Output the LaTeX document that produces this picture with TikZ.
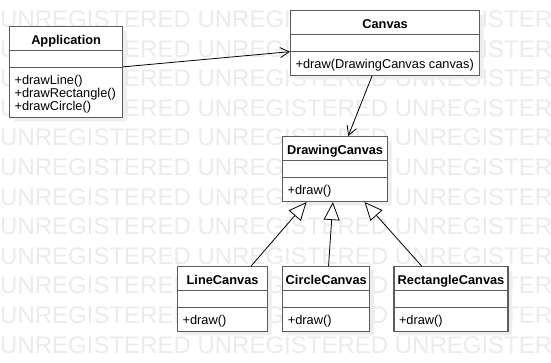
\documentclass[tikz,border=0pt]{standalone}
\usepackage{fontspec}
\setmainfont{Liberation Sans}
\usetikzlibrary{shapes.multipart}
\usetikzlibrary{shadows}
\usetikzlibrary{arrows.meta}
\usetikzlibrary{positioning}

\definecolor{classline}{HTML}{5C5C5C}
\definecolor{stampgray}{HTML}{EBEBEB}
\definecolor{shadegray}{HTML}{EEEEEE}

% one line of a compartment, fixed height so all boxes line up
\newcommand{\member}[1]{\rule[-1pt]{0pt}{13pt}\smash{#1}}
\newcommand{\members}[1]{\begin{tabular}{@{}l@{}}#1\end{tabular}}
% class name, centred, does not widen the box
\newcommand{\cname}[1]{\member{\makebox[0pt]{\textbf{#1}}}}
\renewcommand{\arraystretch}{0}

\tikzset{
  umlclass/.style={rectangle split, rectangle split parts=3,
    rectangle split part align={center,left,left},
    rectangle split empty part height=0pt,
    rectangle split empty part depth=0pt,
    draw=classline, line width=1.2pt, fill=white,
    inner xsep=5pt, inner ysep=5pt, anchor=north west,
    font=\fontsize{12.8}{13}\selectfont,
    drop shadow={shadow xshift=4pt, shadow yshift=-4pt, fill=shadegray, opacity=1}},
  assoc/.style={draw=black, line width=0.8pt,
    -{Straight Barb[length=9pt, width=10pt]}},
  inherit/.style={draw=black, line width=0.8pt,
    -{Triangle[open, fill=white, length=18pt, width=16pt]}},
  stamp/.style={text=stampgray, font=\fontsize{24}{24}\selectfont,
    inner sep=0pt, anchor=base west}
}

\begin{document}
\begin{tikzpicture}[x=1pt, y=1pt]
  \useasboundingbox (0,0) rectangle (551,-363);

  % background stamp rows
  \begin{scope}
    \clip (0,0) rectangle (551,-363);
    \foreach \k in {0,...,11}
      \node[stamp] (stamp\k) at (0,{-27.5-29.6*\k})
        {UNREGISTERED UNREGISTERED UNREGISTERED};
  \end{scope}

  \node[umlclass, minimum width=113pt] (app) at (9,-26)
    {\cname{Application}
     \nodepart{two}
     \nodepart{three}\members{\member{+drawLine()}\\
                              \member{+drawRectangle()}\\
                              \member{+drawCircle()}}};
  \node[umlclass, minimum width=189pt] (canvas) at (290,-10)
    {\cname{Canvas}
     \nodepart{two}
     \nodepart{three}\member{+draw(DrawingCanvas canvas)}};
  \node[umlclass, minimum width=105pt] (drawc) at (282,-136)
    {\cname{DrawingCanvas}
     \nodepart{two}
     \nodepart{three}\member{+draw()}};
  \node[umlclass, minimum width=90pt] (linec) at (177,-266)
    {\cname{LineCanvas}
     \nodepart{two}
     \nodepart{three}\member{+draw()}};
  \node[umlclass, minimum width=87pt, right=14pt of linec] (circlec)
    {\cname{CircleCanvas}
     \nodepart{two}
     \nodepart{three}\member{+draw()}};
  \node[umlclass, minimum width=114pt, right=23pt of circlec] (rectc)
    {\cname{RectangleCanvas}
     \nodepart{two}
     \nodepart{three}\member{+draw()}};

  % associations
  \draw[assoc] (app) -- (canvas);
  \draw[assoc] (canvas) -- (drawc);

  % generalizations
  \draw[inherit] (linec) -- (drawc);
  \draw[inherit] (circlec) -- (drawc);
  \draw[inherit] (rectc) -- (drawc);
\end{tikzpicture}
\end{document}
